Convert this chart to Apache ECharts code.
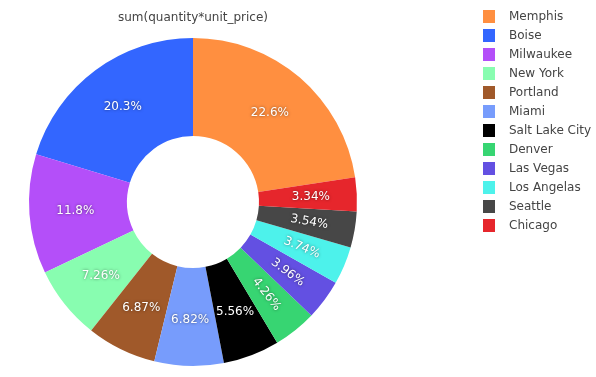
<!DOCTYPE html>
<html>
<head>
<meta charset="utf-8">
<script src="https://cdn.jsdelivr.net/npm/echarts@6/dist/echarts.min.js"></script>
<style>
  html, body { margin: 0; padding: 0; background: #fff; }
  #container { width: 596px; height: 377px; }
</style>
</head>
<body>
<div id="container"></div>
<script>
// cities, in legend order (largest first)
const cities = ['Memphis', 'Boise', 'Milwaukee', 'New York', 'Portland', 'Miami',
  'Salt Lake City', 'Denver', 'Las Vegas', 'Los Angelas', 'Seattle', 'Chicago'];
// share of sum(quantity*unit_price), in percent
const shares = [22.6, 20.3, 11.8, 7.26, 6.87, 6.82, 5.56, 4.26, 3.96, 3.74, 3.54, 3.34];
const colors = ['#FF8F40', '#3366FF', '#B44FF9', '#88FDB0', '#A0592A', '#779CFC',
  '#000000', '#37D572', '#6350E2', '#4DF2EB', '#474747', '#E6262C'];
// small slices whose label is turned along the radius
const radialLabels = ['Denver', 'Las Vegas', 'Los Angelas', 'Seattle'];

const total = shares.reduce((a, b) => a + b, 0);
// first slice ends at 12 o'clock, the rest run counter-clockwise
const startAngle = 90 - shares[0] / total * 360;

const pieData = cities.map(function (name, i) {
  const item = { name: name, value: shares[i], itemStyle: { color: colors[i] } };
  if (radialLabels.indexOf(name) >= 0) {
    item.label = { rotate: 'radial' };
  }
  return item;
});

const chart = echarts.init(document.getElementById('container'));
chart.setOption({
  animation: false,
  textStyle: { fontFamily: 'DejaVu Sans' },
  title: {
    text: 'sum(quantity*unit_price)',
    left: 193,
    textAlign: 'center',
    top: 11,
    padding: 0,
    textStyle: { fontSize: 12, fontWeight: 'normal', color: '#444', fontFamily: 'DejaVu Sans', lineHeight: 14 }
  },
  legend: {
    orient: 'vertical',
    left: 483,
    top: 10,
    padding: 0,
    itemWidth: 12,
    itemHeight: 13,
    itemGap: 6,
    icon: 'rect',
    selectedMode: false,
    data: cities,
    textStyle: { fontSize: 12, color: '#444', fontFamily: 'DejaVu Sans', padding: [0, 0, 0, 9] }
  },
  series: [{
    type: 'pie',
    center: [193, 202],
    radius: [66, 164],
    startAngle: startAngle,
    clockwise: false,
    avoidLabelOverlap: false,
    emphasis: { disabled: true },
    itemStyle: { borderWidth: 0 },
    label: {
      show: true,
      position: 'inside',
      formatter: function (p) {
        return p.value + '%';
      },
      color: '#fff',
      fontSize: 12,
      fontFamily: 'DejaVu Sans',
      textShadowColor: 'rgba(0,0,0,0.55)',
      textShadowBlur: 3
    },
    labelLine: { show: false },
    data: pieData
  }]
});
</script>
</body>
</html>
